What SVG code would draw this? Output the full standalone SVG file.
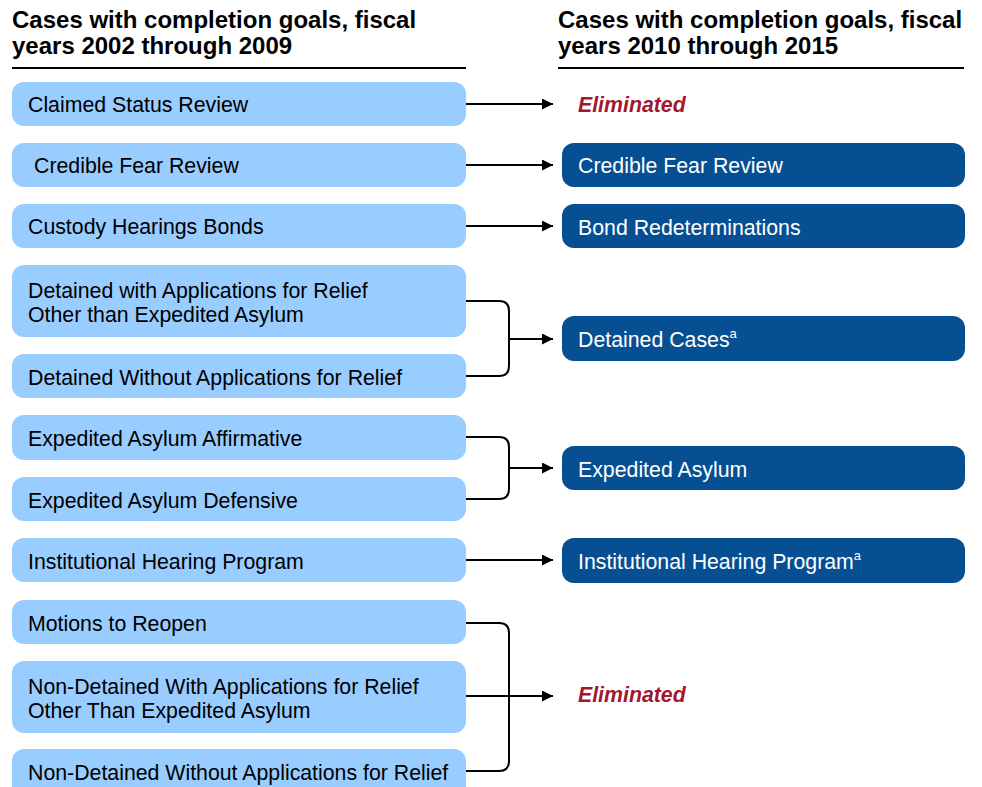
<svg xmlns="http://www.w3.org/2000/svg" width="982" height="787" viewBox="0 0 982 787">
<defs>
<marker id="ah" viewBox="0 0 10 10" refX="10" refY="5" markerWidth="11" markerHeight="11" markerUnits="userSpaceOnUse" orient="auto">
<path d="M0,0 L10,5 L0,10 z" fill="#000"/>
</marker>
<style>
.hd{font-family:"Liberation Sans",Arial,sans-serif;font-weight:bold;font-size:24px;fill:#000}
.lb{fill:#99CCFF}
.db{fill:#064F93}
.t{font-family:"Liberation Sans",Arial,sans-serif;font-size:21.3px;fill:#000}
.tw{font-family:"Liberation Sans",Arial,sans-serif;font-size:21.3px;fill:#fff}
.sup{font-size:13px}
.el{font-family:"Liberation Sans",Arial,sans-serif;font-size:21.3px;font-weight:bold;font-style:italic;fill:#A3172E}
.c{fill:none;stroke:#000;stroke-width:2}
.a{fill:none;stroke:#000;stroke-width:2;marker-end:url(#ah)}
</style>
</defs>
<rect width="982" height="787" fill="#fff"/>
<g id="header-left">
<text class="hd" x="12" y="28">Cases with completion goals, fiscal</text>
<text class="hd" x="12" y="54">years 2002 through 2009</text>
<line x1="12" y1="68" x2="466" y2="68" stroke="#000" stroke-width="2"/>
</g>
<g id="header-right">
<text class="hd" x="558" y="28">Cases with completion goals, fiscal</text>
<text class="hd" x="558" y="54">years 2010 through 2015</text>
<line x1="558" y1="68" x2="964" y2="68" stroke="#000" stroke-width="2"/>
</g>
<g id="l1"><rect class="lb" x="12" y="82" width="454" height="44" rx="12"/><text class="t" x="28" y="112">Claimed Status Review</text></g>
<g id="l2"><rect class="lb" x="12" y="143" width="454" height="44" rx="12"/><text class="t" x="34" y="173">Credible Fear Review</text></g>
<g id="l3"><rect class="lb" x="12" y="204" width="454" height="44" rx="12"/><text class="t" x="28" y="234">Custody Hearings Bonds</text></g>
<g id="l4"><rect class="lb" x="12" y="265" width="454" height="72" rx="12"/><text class="t" x="28" y="298">Detained with Applications for Relief</text><text class="t" x="28" y="322">Other than Expedited Asylum</text></g>
<g id="l5"><rect class="lb" x="12" y="354" width="454" height="44" rx="12"/><text class="t" x="28" y="385">Detained Without Applications for Relief</text></g>
<g id="l6"><rect class="lb" x="12" y="415" width="454" height="45" rx="12"/><text class="t" x="28" y="446">Expedited Asylum Affirmative</text></g>
<g id="l7"><rect class="lb" x="12" y="477" width="454" height="44" rx="12"/><text class="t" x="28" y="508">Expedited Asylum Defensive</text></g>
<g id="l8"><rect class="lb" x="12" y="538" width="454" height="44" rx="12"/><text class="t" x="28" y="569">Institutional Hearing Program</text></g>
<g id="l9"><rect class="lb" x="12" y="600" width="454" height="44" rx="12"/><text class="t" x="28" y="631">Motions to Reopen</text></g>
<g id="l10"><rect class="lb" x="12" y="661" width="454" height="72" rx="12"/><text class="t" x="28" y="694">Non-Detained With Applications for Relief</text><text class="t" x="28" y="718">Other Than Expedited Asylum</text></g>
<g id="l11"><rect class="lb" x="12" y="749" width="454" height="60" rx="12"/><text class="t" x="28" y="780">Non-Detained Without Applications for Relief</text></g>
<g id="r1"><text class="el" x="578" y="112">Eliminated</text></g>
<g id="r2"><rect class="db" x="562" y="143" width="403" height="44" rx="12"/><text class="tw" x="578" y="173">Credible Fear Review</text></g>
<g id="r3"><rect class="db" x="562" y="204" width="403" height="44" rx="12"/><text class="tw" x="578" y="235">Bond Redeterminations</text></g>
<g id="r4"><rect class="db" x="562" y="316" width="403" height="45" rx="12"/><text class="tw" x="578" y="347">Detained Cases<tspan class="sup" dy="-9">a</tspan></text></g>
<g id="r5"><rect class="db" x="562" y="446" width="403" height="44" rx="12"/><text class="tw" x="578" y="477">Expedited Asylum</text></g>
<g id="r6"><rect class="db" x="562" y="538" width="403" height="45" rx="12"/><text class="tw" x="578" y="569">Institutional Hearing Program<tspan class="sup" dy="-9">a</tspan></text></g>
<g id="r7"><text class="el" x="578" y="702">Eliminated</text></g>
<g id="connectors">
<line class="a" x1="466" y1="104" x2="553" y2="104"/>
<line class="a" x1="466" y1="165" x2="553" y2="165"/>
<line class="a" x1="466" y1="226" x2="553" y2="226"/>
<path class="c" d="M466,301 H499 Q509,301 509,311 V366 Q509,376 499,376 H466"/>
<line class="a" x1="509" y1="339" x2="553" y2="339"/>
<path class="c" d="M466,437 H499 Q509,437 509,447 V489 Q509,499 499,499 H466"/>
<line class="a" x1="509" y1="468" x2="553" y2="468"/>
<line class="a" x1="466" y1="560" x2="553" y2="560"/>
<path class="c" d="M466,623 H499 Q509,623 509,633 V761 Q509,771 499,771 H466"/>
<line class="a" x1="466" y1="696" x2="553" y2="696"/>
</g>
</svg>
